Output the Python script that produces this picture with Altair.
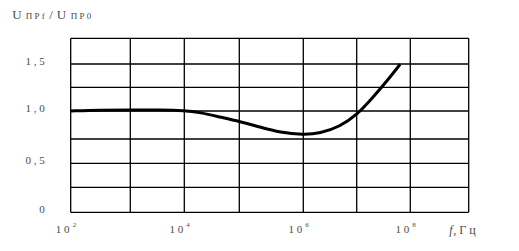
import altair as alt
import pandas as pd

# curve: x = lg(f), y = U_ПРf / U_ПР0
lg_f = [2.0, 2.49, 3.0, 3.55, 4.0, 4.29, 4.65, 5.01, 5.32, 5.64, 6.0, 6.31, 6.69, 7.0, 7.285, 7.55, 7.81]
ratio = [1.0, 1.01, 1.01, 1.01, 1.007, 0.987, 0.946, 0.906, 0.857, 0.808, 0.786, 0.799, 0.862, 0.964, 1.132, 1.307, 1.497]

x_grid = [2, 3, 4, 5, 6, 7, 8, 9]
y_grid = [0, 0.25, 0.5, 0.75, 1.0, 1.25, 1.5, 1.75]

x_ticks = [2, 4, 6, 8]
x_exp = ["2", "4", "6", "8"]
y_ticks = [0, 0.5, 1.0, 1.5]
y_labels = ["0", "0 , 5", "1 , 0", "1 , 5"]

W, H = 398, 174
FONT = "Liberation Serif"
TC = "#4a4a4a"

# hand-drawn, slightly uneven grid -> piecewise scales
xs = alt.Scale(domain=x_grid, range=[0, 59.6, 113.6, 168.6, 232.6, 286, 339.6, 398])
ys = alt.Scale(domain=y_grid, range=[174, 149, 125, 100.7, 72.7, 49, 25.7, 0])

curve = pd.DataFrame({"x": lg_f, "y": ratio})
vg = pd.DataFrame({"x": x_grid})
hg = pd.DataFrame({"y": y_grid})
xt = pd.DataFrame({"x": x_ticks, "e": x_exp})
yt = pd.DataFrame({"y": y_ticks, "t": y_labels})
one = pd.DataFrame({"k": [0]})

vrules = alt.Chart(vg).mark_rule(color="black", strokeWidth=1.3).encode(
    x=alt.X("x:Q", scale=xs, axis=None), y=alt.value(0), y2=alt.value(H))
hrules = alt.Chart(hg).mark_rule(color="black", strokeWidth=1.3).encode(
    y=alt.Y("y:Q", scale=ys, axis=None), x=alt.value(0), x2=alt.value(W))

line = alt.Chart(curve).mark_line(color="black", strokeWidth=3, interpolate="basis").encode(
    x=alt.X("x:Q", scale=xs, axis=None), y=alt.Y("y:Q", scale=ys, axis=None))

ylab = alt.Chart(yt).mark_text(align="right", baseline="middle", font=FONT, fontSize=11,
                               color=TC, dy=-2).encode(
    x=alt.value(-26), y=alt.Y("y:Q", scale=ys, axis=None), text="t:N")

xbase = alt.Chart(xt).mark_text(align="center", baseline="middle", font=FONT, fontSize=11,
                                color=TC, dx=-8).encode(
    x=alt.X("x:Q", scale=xs, axis=None), y=alt.value(192), text=alt.value("1 0"))
xexp = alt.Chart(xt).mark_text(align="left", baseline="middle", font=FONT, fontSize=7,
                               color=TC, dx=2).encode(
    x=alt.X("x:Q", scale=xs, axis=None), y=alt.value(187), text="e:N")


def txt(s, x, y, size, style="normal"):
    return alt.Chart(one).mark_text(align="left", baseline="alphabetic", font=FONT,
                                    fontSize=size, fontStyle=style, color=TC).encode(
        x=alt.value(x), y=alt.value(y), text=alt.value(s))


f_it = txt("f", 378.5, 196, 12, "italic")
f_unit = txt(", Г ц", 382.5, 196, 12)

tU1 = txt("U", -58.5, -19, 13)
tS1 = txt("П Р f", -45, -19, 9)
tSl = txt("/", -21.5, -19, 13)
tU2 = txt("U", -14, -19, 13)
tS2 = txt("П Р 0", 0, -19, 9)

chart = alt.layer(vrules, hrules, line, ylab, xbase, xexp, f_it, f_unit,
                  tU1, tS1, tSl, tU2, tS2).properties(
    width=W, height=H,
    autosize=alt.AutoSizeParams(type="none"),
    padding={"left": 70.7, "top": 38.3, "right": 50.3, "bottom": 38.7},
    background="white",
).configure_view(stroke=None)

chart.save("out.html", embed_options={"renderer": "svg", "actions": False})
